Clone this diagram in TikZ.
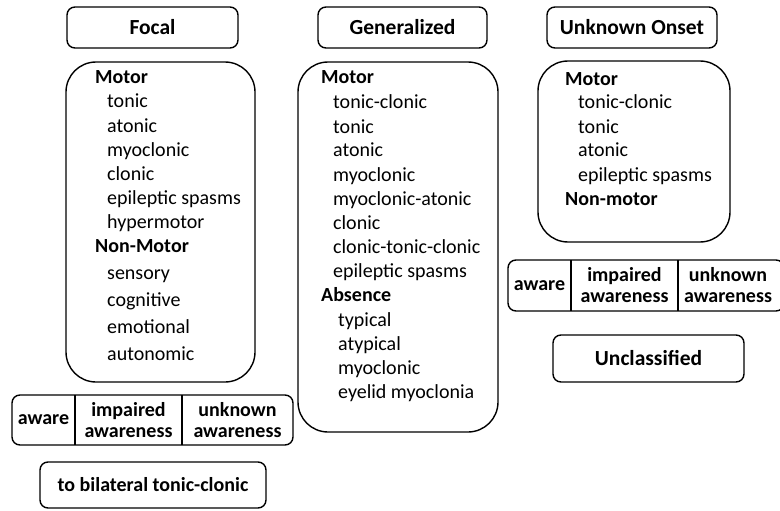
\documentclass[tikz,border=0pt]{standalone}
\usepackage{fontspec}
\setmainfont{Carlito}
\usetikzlibrary{positioning}
\newcommand{\bodyfont}{\fontsize{20}{21}\selectfont}

\begin{document}
\begin{tikzpicture}[x=1pt, y=-1pt,
            every node/.style = {font=\bodyfont},
            title/.style = {draw, line width=1.4pt, rounded corners=8pt,
                           font=\fontsize{21.5}{24}\selectfont\bfseries},
            group/.style = {draw, line width=1.4pt, rounded corners=30pt},
            awarerow/.style = {draw, line width=1.4pt, rounded corners=8pt},
            head/.style = {anchor=base west, inner sep=0pt, font=\bodyfont\bfseries},
            item/.style = {anchor=base west, inner sep=0pt},
            cell/.style = {align=center, inner sep=0pt, font=\bodyfont\bfseries}
        ]
            \useasboundingbox (0,0) rectangle (780,511);

            % titles
            \node[title, minimum width=171, minimum height=41] (focal) at (152.5,27.5) {Focal};
            \node[title, minimum width=169, minimum height=41] (gen) at (402.5,27.5) {Generalized};
            \node[title, minimum width=170, minimum height=41] (unk) at (632,27.5) {Unknown Onset};

            % group boxes
            \node[group, minimum width=189, minimum height=320] (focalbox) at (160.5,222) {};
            \node[group, minimum width=200, minimum height=370] (genbox) at (398,247) {};
            \node[group, minimum width=192, minimum height=181] (unkbox) at (634,151.5) {};

            % focal
            \node[head] (fmotor) at (95,84) {Motor};
            \foreach \t [count=\i] in {tonic, atonic, myoclonic, clonic, epileptic spasms, hypermotor}
                \node[item] (fm\i) at (107,{108+24*(\i-1)}) {\t};
            \node[head] (fnon) at (95,252) {Non-Motor};
            \foreach \t [count=\i] in {sensory, cognitive, emotional, autonomic}
                \node[item] (fn\i) at (107,{279+27*(\i-1)}) {\t};

            % generalized
            \node[head] (gmotor) at (321,84) {Motor};
            \foreach \t [count=\i] in {tonic-clonic, tonic, atonic, myoclonic, myoclonic-atonic,
                                       clonic, clonic-tonic-clonic, epileptic spasms}
                \node[item] (gm\i) at (333,{109+24*(\i-1)}) {\t};
            \node[head] (gabs) at (321,301) {Absence};
            \foreach \t [count=\i] in {typical, atypical, myoclonic, eyelid myoclonia}
                \node[item] (ga\i) at (338,{326+24*(\i-1)}) {\t};

            % unknown onset
            \node[head] (umotor) at (565,85) {Motor};
            \foreach \t [count=\i] in {tonic-clonic, tonic, atonic, epileptic spasms}
                \node[item] (um\i) at (578,{109+24*(\i-1)}) {\t};
            \node[head] (unon) at (565,205) {Non-motor};

            % awareness rows
            \node[awarerow, minimum width=281, minimum height=50] (lrow) at (152.5,420) {};
            \draw[line width=1.4pt] (75,395) -- (75,445)   (182,395) -- (182,445);
            \node[cell] (la) at (43.5,420) {aware};
            \node[cell] (li) at (128.5,420) {impaired\\awareness};
            \node[cell] (lu) at (237.5,420) {unknown\\awareness};

            \node[awarerow, minimum width=276, minimum height=51] (rrow) at (646,285.5) {};
            \draw[line width=1.4pt] (571,260) -- (571,311)   (678,260) -- (678,311);
            \node[cell] (ra) at (539.5,285.5) {aware};
            \node[cell] (ri) at (624.5,285.5) {impaired\\awareness};
            \node[cell] (ru) at (728,285.5) {unknown\\awareness};

            % bottom boxes
            \node[title, font=\bodyfont\bfseries, minimum width=226, minimum height=46] (bilat) at (153,485) {to bilateral tonic-clonic};
            \node[title, minimum width=191, minimum height=47] (uncl) at (648.5,358.5) {Unclassified};
        \end{tikzpicture}
\end{document}
